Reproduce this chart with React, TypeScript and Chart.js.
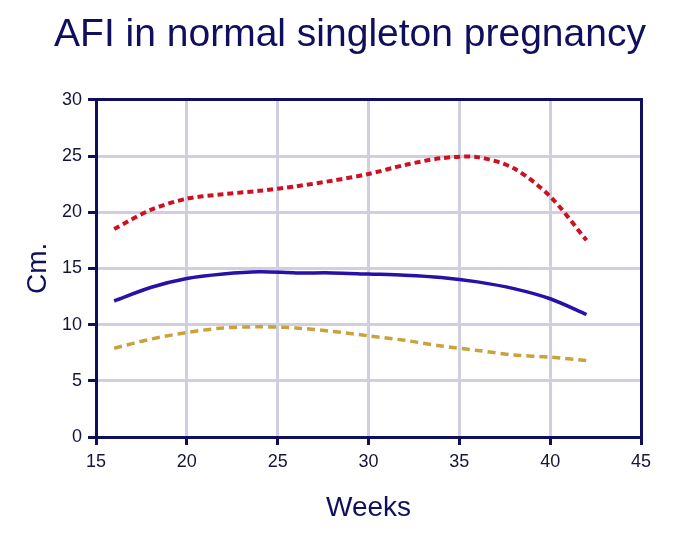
import React, { useEffect, useRef } from "react";
import { Chart, registerables } from "chart.js";

Chart.register(...registerables);

const weeks = [16, 18, 20, 22, 24, 26, 28, 30, 32, 34, 36, 38, 40, 42];
const p95 = [18.5, 20.2, 21.2, 21.6, 21.9, 22.3, 22.8, 23.4, 24.2, 24.8, 24.9, 23.9, 21.4, 17.5];
const p50 = [12.1, 13.3, 14.1, 14.5, 14.7, 14.6, 14.6, 14.5, 14.4, 14.2, 13.8, 13.2, 12.3, 10.9];
const p5 = [7.9, 8.7, 9.3, 9.7, 9.8, 9.7, 9.4, 9.0, 8.6, 8.1, 7.7, 7.3, 7.1, 6.8];
const xTicks = [15, 20, 25, 30, 35, 40, 45];
const yTicks = [0, 5, 10, 15, 20, 25, 30];

const NAVY = "#0f0f5e";
const GRID = "#cfcfe0";
const FONT = "'Liberation Sans', Arial, sans-serif";

export default function App() {
  const ref = useRef<HTMLCanvasElement | null>(null);

  useEffect(() => {
    document.body.style.margin = "0";
    if (!ref.current) return;
    const pts = (vals: number[]) => weeks.map((w, i) => ({ x: w, y: vals[i] }));
    const edgeColor = (list: number[]) => (c: any) => {
      const v = c.tick ? c.tick.value : null;
      return v === list[0] || v === list[list.length - 1] ? "rgba(0,0,0,0)" : GRID;
    };
    const chart = new Chart(ref.current, {
      type: "line",
      data: {
        datasets: [
          {
            label: "95th",
            data: pts(p95),
            borderColor: "#cc1122",
            borderWidth: 4,
            borderDash: [6, 4],
            pointRadius: 0,
            tension: 0.3,
            fill: false,
            xAxisID: "x",
            yAxisID: "y",
          },
          {
            label: "50th",
            data: pts(p50),
            borderColor: "#2a0fa8",
            borderWidth: 3.5,
            pointRadius: 0,
            tension: 0.3,
            fill: false,
            xAxisID: "x",
            yAxisID: "y",
          },
          {
            label: "5th",
            data: pts(p5),
            borderColor: "#c9a23e",
            borderWidth: 3.5,
            borderDash: [8, 5],
            pointRadius: 0,
            tension: 0.3,
            fill: false,
            xAxisID: "x",
            yAxisID: "y",
          },
        ],
      },
      options: {
        animation: false,
        responsive: false,
        devicePixelRatio: 1,
        layout: { padding: 0 },
        plugins: {
          legend: { display: false },
          tooltip: { enabled: false },
          title: {
            display: true,
            text: "AFI in normal singleton pregnancy",
            color: NAVY,
            font: { family: FONT, size: 39, weight: "normal", lineHeight: 1.2 },
            padding: { top: 12, bottom: 41 },
          },
        },
        scales: {
          x: {
            type: "linear",
            position: "bottom",
            min: 15,
            max: 45,
            afterBuildTicks: (s: any) => {
              s.ticks = xTicks.map((v) => ({ value: v }));
            },
            afterFit: (s: any) => {
              s.height = 98;
            },
            ticks: {
              color: "#15153a",
              font: { family: FONT, size: 18 },
              padding: 6,
              maxRotation: 0,
            },
            grid: {
              color: edgeColor(xTicks),
              lineWidth: 3,
              tickLength: 8,
              tickColor: NAVY,
              tickWidth: 3,
            },
            border: { display: true, color: NAVY, width: 3 },
            title: {
              display: true,
              text: "Weeks",
              color: NAVY,
              font: { family: FONT, size: 28, lineHeight: 1.2 },
              padding: { top: 0, bottom: 10 },
            },
          },
          y: {
            type: "linear",
            position: "left",
            min: 0,
            max: 30,
            afterBuildTicks: (s: any) => {
              s.ticks = yTicks.map((v) => ({ value: v }));
            },
            afterFit: (s: any) => {
              s.width = 96;
            },
            ticks: {
              color: "#15153a",
              font: { family: FONT, size: 18 },
              padding: 6,
            },
            grid: {
              color: edgeColor(yTicks),
              lineWidth: 3,
              tickLength: 8,
              tickColor: NAVY,
              tickWidth: 3,
            },
            border: { display: true, color: NAVY, width: 3 },
            title: {
              display: true,
              text: "Cm.",
              color: NAVY,
              font: { family: FONT, size: 28, lineHeight: 1.2 },
              padding: { top: 21, bottom: 0 },
            },
          },
          x2: {
            type: "linear",
            axis: "x",
            position: "top",
            min: 15,
            max: 45,
            afterFit: (s: any) => {
              s.height = 0;
            },
            ticks: { display: false },
            grid: { display: false, drawTicks: false },
            border: { display: true, color: NAVY, width: 3 },
          },
          y2: {
            type: "linear",
            axis: "y",
            position: "right",
            min: 0,
            max: 30,
            afterFit: (s: any) => {
              s.width = 59;
            },
            ticks: { display: false },
            grid: { display: false, drawTicks: false },
            border: { display: true, color: NAVY, width: 3 },
          },
        },
      } as any,
    });
    return () => chart.destroy();
  }, []);

  return (
    <div style={{ width: 700, height: 535, background: "#fff" }}>
      <canvas ref={ref} width={700} height={535} style={{ width: 700, height: 535, display: "block" }} />
    </div>
  );
}
